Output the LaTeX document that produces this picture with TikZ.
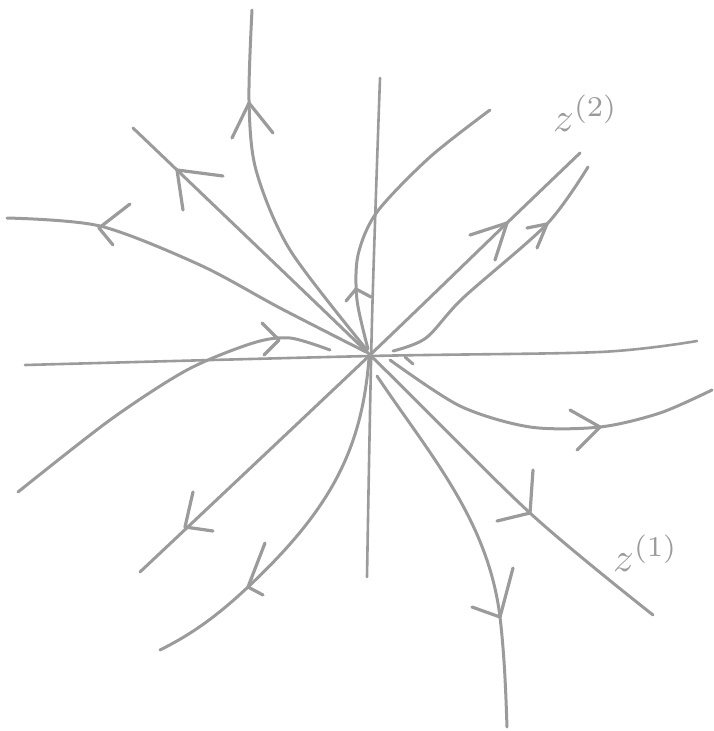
\documentclass[tikz,border=0pt]{standalone}
\usepackage{xcolor}
\usepackage{graphicx}
\definecolor{pen}{RGB}{155,155,155}
\begin{document}
\begin{tikzpicture}[x=1pt,y=-1pt,
  stroke/.style={draw=pen,line width=3pt,line cap=round,line join=round},
  barbs/.style={stroke,line width=3.2pt},
  lab/.style={text=pen,inner sep=0pt}]
\useasboundingbox (0,0) rectangle (713,731);
% axes
\draw[stroke,line width=2.6pt] plot[smooth] coordinates {(25,365) (370,356) (600,352) (697,341)};
\draw[stroke,line width=2.6pt] plot[smooth] coordinates {(380,78) (372,320) (367,577)};
% eigen-direction z(1)
\draw[stroke] plot[smooth] coordinates {(133,128) (370,355) (530,513) (653,615)};
\draw[barbs] (183,210) -- (177,170) -- (223,176);
\draw[barbs] (533,470) -- (530,513) -- (497,521);
% eigen-direction z(2)
\draw[stroke] plot[smooth] coordinates {(140,572) (370,355) (507,223) (580,153)};
\draw[barbs] (193,492) -- (185,527) -- (213,531);
\draw[barbs] (470,235) -- (507,223) -- (495,260);
% trajectory parallel to z(2)
\draw[stroke] plot[smooth] coordinates {(393,351) (426,338) (463,298) (547,224) (588,167)};
\draw[barbs] (527,228) -- (547,224) -- (537,248);
% trajectory upper middle
\draw[stroke] plot[smooth] coordinates {(368,349) (357,300) (358,255) (377,212) (430,157) (490,110)};
\draw[barbs] (346,301) -- (356,289) -- (371,297);
% trajectory to the top
\draw[stroke] plot[smooth] coordinates {(367,350) (290,250) (256,170) (249,100) (252,10)};
\draw[barbs] (232,138) -- (249,103) -- (273,133);
% trajectory to the left (upper)
\draw[stroke] plot[smooth] coordinates {(366,352) (280,308) (200,265) (100,226) (7,218)};
\draw[barbs] (130,204) -- (99,228) -- (113,245);
% trajectory from lower left
\draw[stroke] plot[smooth] coordinates {(18,492) (110,420) (187,370) (253,343) (290,338) (330,350)};
\draw[barbs] (262,323) -- (279,340) -- (264,355);
% trajectory to the right
\draw[stroke] plot[smooth] coordinates {(390,360) (460,406) (530,427) (600,427) (660,413) (712,390)};
\draw[barbs] (570,410) -- (600,427) -- (577,450);
\draw[stroke] (405,357) -- (413,364);
% trajectory to the bottom
\draw[stroke] (377,376) .. controls (430,455) and (488,520) .. (500,617) .. controls (505,660) and (506,700) .. (507,727);
\draw[barbs] (513,568) -- (500,617) -- (472,607);
% trajectory to lower left
\draw[stroke] (369,358) .. controls (362,450) and (330,510) .. (248,587) .. controls (215,618) and (190,635) .. (160,650);
\draw[barbs] (265,543) -- (248,587) -- (263,595);
% labels
\node[lab,anchor=base west] (z2) at (553,131) {\scalebox{4.1}{$z^{(2)}$}};
\node[lab,anchor=base west] (z1) at (613,571) {\scalebox{4.1}{$z^{(1)}$}};
\end{tikzpicture}
\end{document}
